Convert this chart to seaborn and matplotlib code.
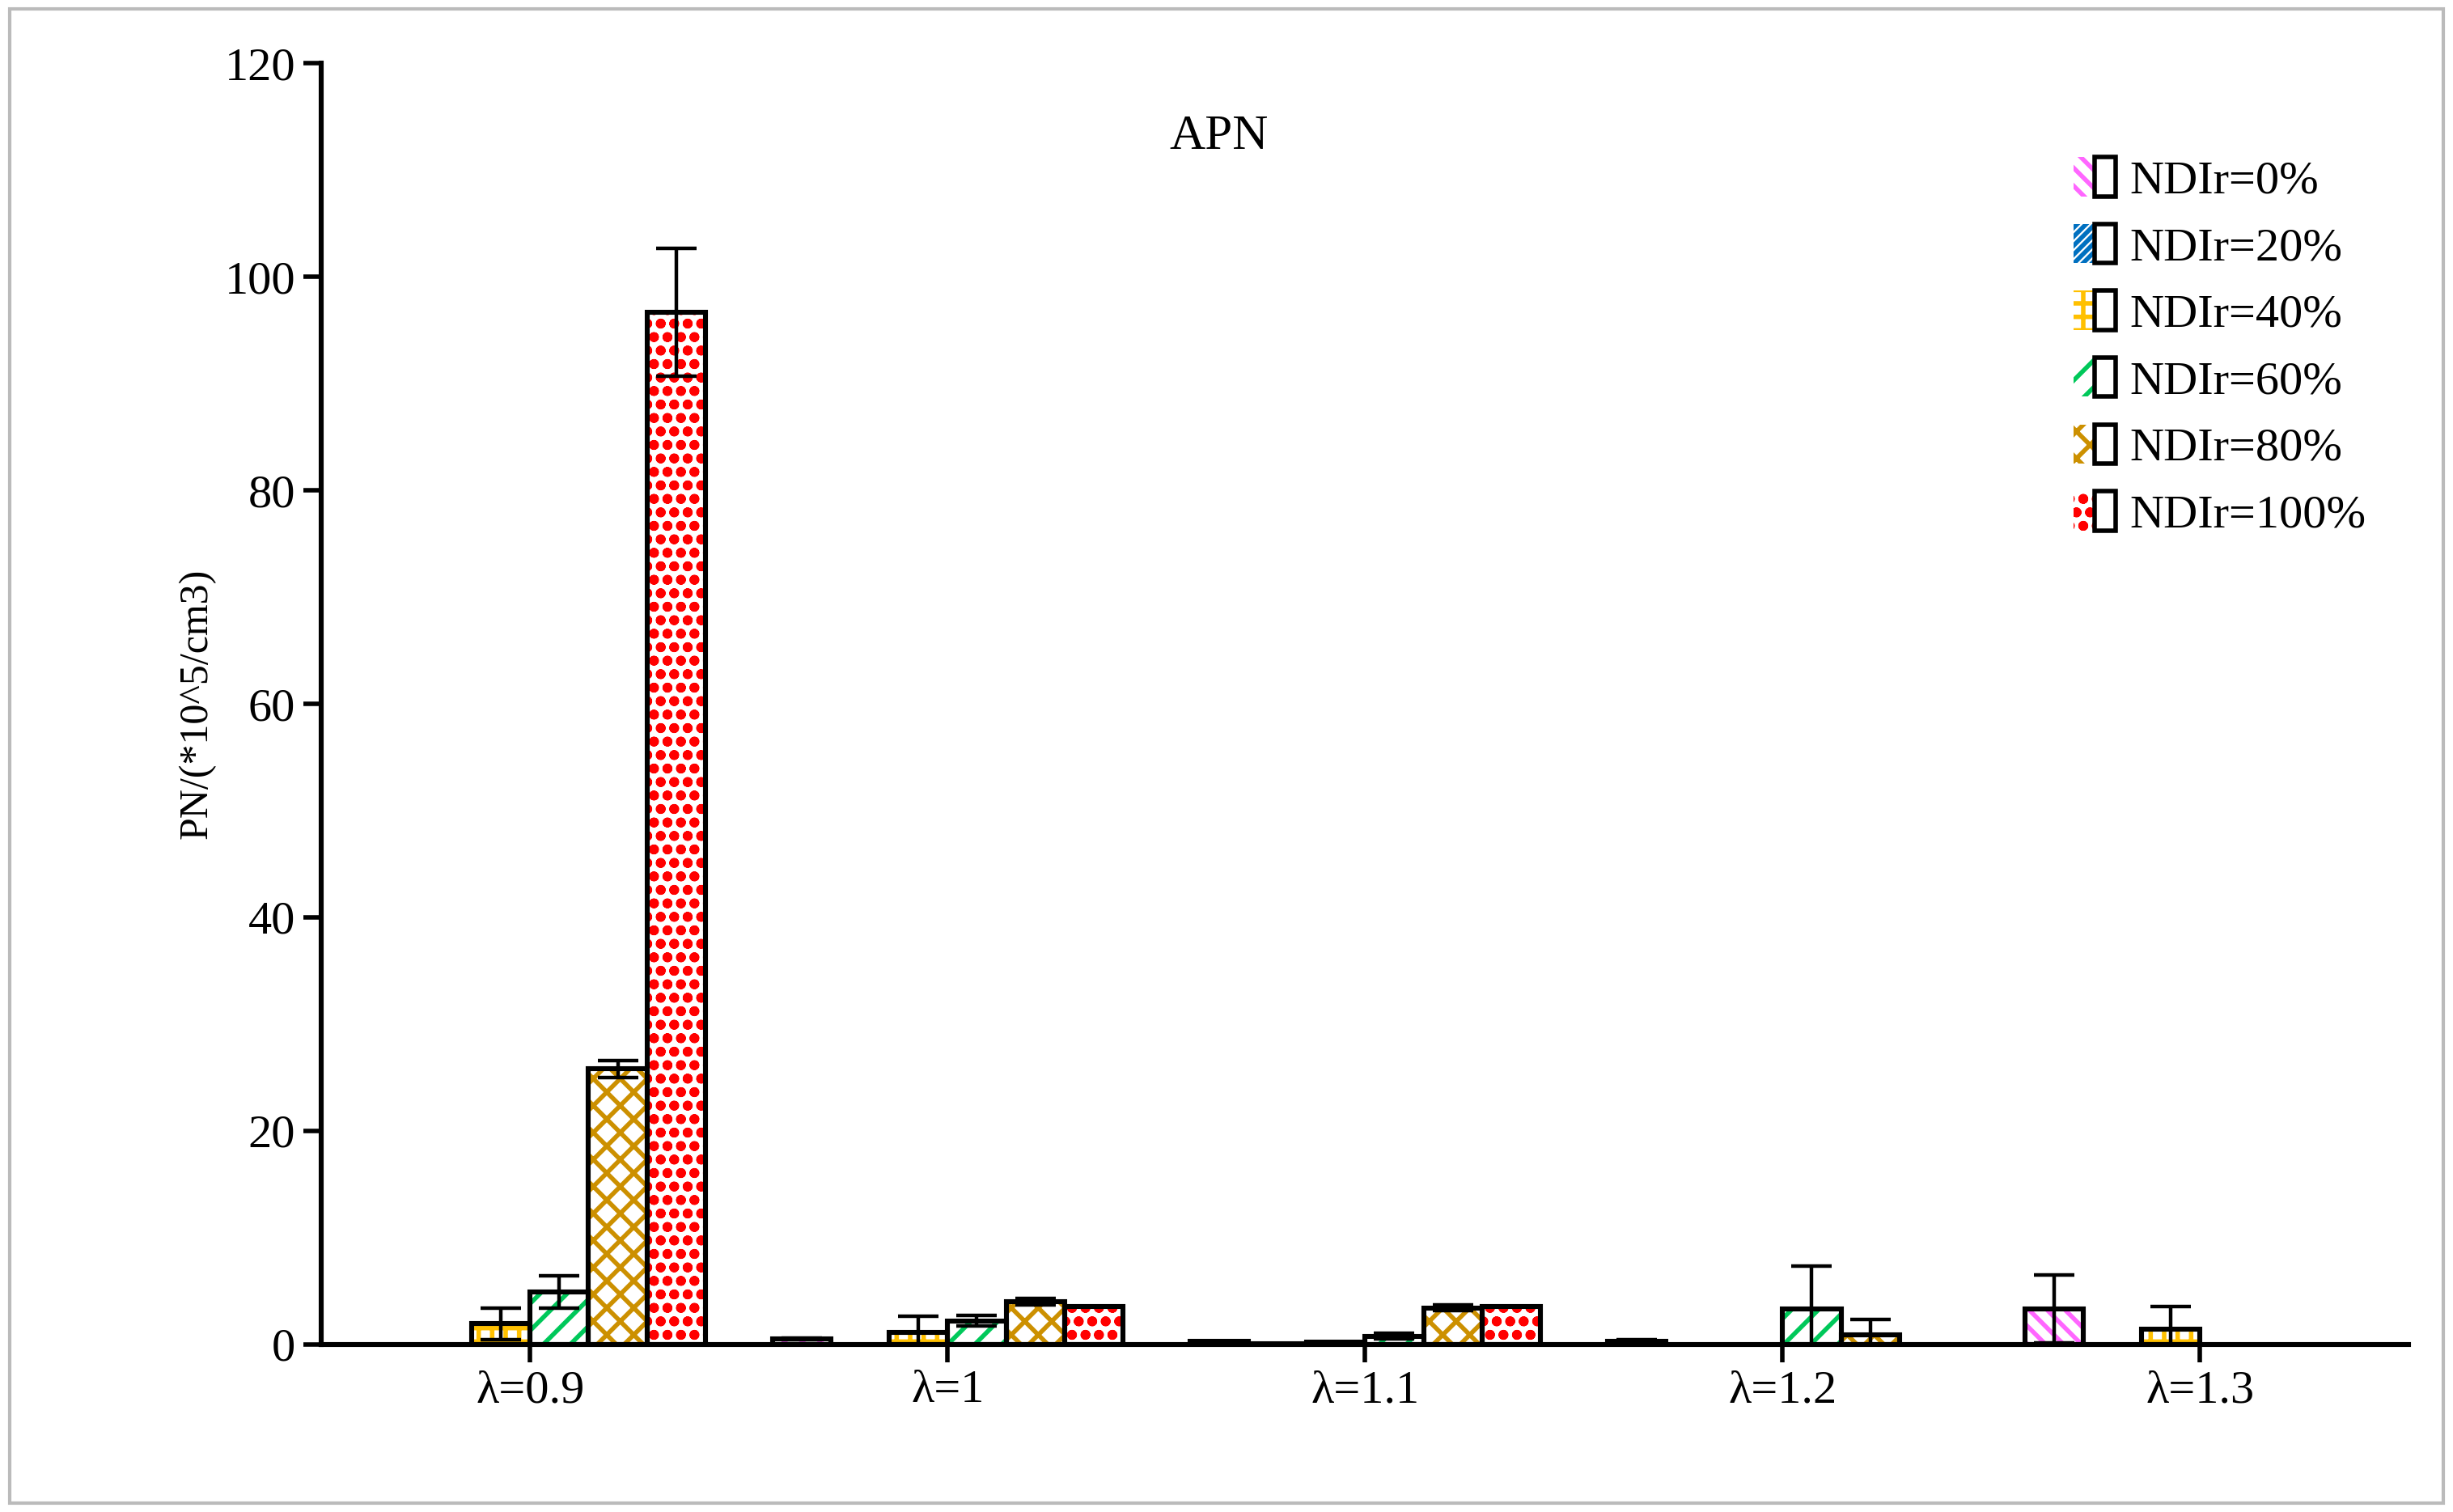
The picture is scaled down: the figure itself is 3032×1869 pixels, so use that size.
import matplotlib
matplotlib.use("Agg")
import matplotlib.pyplot as plt
import seaborn as sns
import pandas as pd
import numpy as np
from matplotlib.patches import Patch, Rectangle
from matplotlib.legend_handler import HandlerTuple

categories = ["λ=0.9", "λ=1", "λ=1.1", "λ=1.2", "λ=1.3"]
series = ["NDIr=0%", "NDIr=20%", "NDIr=40%", "NDIr=60%", "NDIr=80%", "NDIr=100%"]
v0 = [0.0, 0.5, 0.25, 0.3, 3.3]
v20 = [0.0, 0.0, 0.05, 0.0, 0.0]
v40 = [1.9, 1.1, 0.2, 0.0, 1.4]
v60 = [4.9, 2.2, 0.75, 3.3, 0.0]
v80 = [25.8, 4.0, 3.4, 0.9, 0.0]
v100 = [96.7, 3.5, 3.5, 0.0, 0.0]
e0 = [0.0, 0.1, 0.05, 0.1, 3.2]
e20 = [0.0, 0.0, 0.0, 0.0, 0.0]
e40 = [1.5, 1.5, 0.0, 0.0, 2.1]
e60 = [1.5, 0.5, 0.25, 4.0, 0.0]
e80 = [0.8, 0.3, 0.25, 1.4, 0.0]
e100 = [6.0, 0.0, 0.0, 0.0, 0.0]

values = [v0, v20, v40, v60, v80, v100]
errors = [e0, e20, e40, e60, e80, e100]
hatch_colors = ["#FF66FF", "#0070C0", "#FFC000", "#00C85A", "#CC9000", "#FF0000"]
hatches = ["\\\\\\", "//////", "++", "//", "xx", "oo"]

rows = []
for s, vals in zip(series, values):
    for c, v in zip(categories, vals):
        rows.append({"cat": c, "series": s, "val": v})
df = pd.DataFrame(rows)

W, H, DPI = 3032, 1869, 200
fig = plt.figure(figsize=(W / DPI, H / DPI), dpi=DPI)
plt.rcParams["font.family"] = ["Liberation Serif", "DejaVu Serif"]
plt.rcParams["hatch.linewidth"] = 2.0
ax = fig.add_axes([0.131, 0.111, 0.851, 0.847])
sns.barplot(data=df, x="cat", y="val", hue="series", order=categories,
            hue_order=series, width=0.84, ax=ax, legend=False, errorbar=None)

bar_conts = list(ax.containers)
for i, cont in enumerate(bar_conts):
    for j, p in enumerate(cont.patches):
        p.set_facecolor("white")
        p.set_edgecolor(hatch_colors[i])
        p.set_hatch(hatches[i])
        p.set_linewidth(0)
        x, w, h = p.get_x(), p.get_width(), p.get_height()
        if h > 0:
            ax.add_patch(Rectangle((x, 0), w, h, fill=False, edgecolor="black", lw=2.2, zorder=3))
        if errors[i][j] > 0:
            ax.errorbar(x + w / 2, h, yerr=errors[i][j], fmt="none", ecolor="black",
                        elinewidth=1.6, capsize=9, capthick=1.6, zorder=4)

ax.set_ylim(0, 120)
ax.set_yticks(range(0, 121, 20))
ax.set_xlim(-0.5, 4.5)
ax.set_xlabel("")
ax.set_ylabel("PN/(*10^5/cm3)", fontsize=18)
for s in ["top", "right"]:
    ax.spines[s].set_visible(False)
for s in ["left", "bottom"]:
    ax.spines[s].set_linewidth(2.2)
ax.tick_params(axis="both", labelsize=21, width=2, length=8, direction="out")
ax.set_xticks(range(len(categories)))
ax.set_xticklabels(categories)
ax.set_facecolor("white")
ax.text(0.43, 0.96, "APN", transform=ax.transAxes, ha="center", va="top", fontsize=22)

handles = [(Patch(facecolor="white", edgecolor=hatch_colors[i], hatch=hatches[i], lw=0),
            Patch(fill=False, edgecolor="black", lw=2)) for i in range(6)]
leg = ax.legend(handles, series, loc="upper right", bbox_to_anchor=(1.0, 0.96), frameon=False,
                fontsize=21, handlelength=0.9, handleheight=0.9, labelspacing=0.45, handletextpad=0.3,
                handler_map={tuple: HandlerTuple(ndivide=None, pad=0)})

fig.add_artist(Rectangle((0.004, 0.006), 0.992, 0.988, transform=fig.transFigure,
                         fill=False, edgecolor="#BBBBBB", lw=1.5))
fig.savefig("out.png", dpi=DPI, facecolor="white")
